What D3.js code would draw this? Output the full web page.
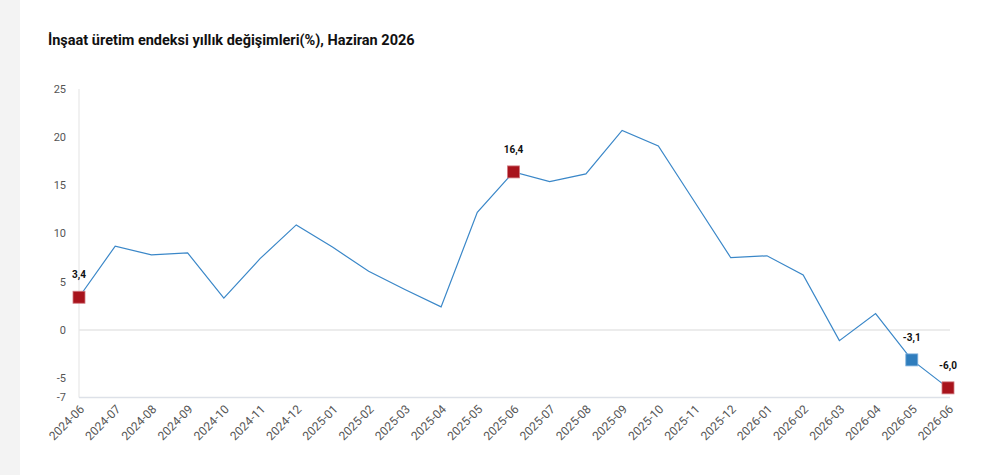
<!DOCTYPE html>
<html>
<head>
<meta charset="utf-8">
<script src="https://cdn.jsdelivr.net/npm/d3@7"></script>
<style>
  body { margin: 0; background: #fff; font-family: Roboto, "Noto Sans", sans-serif; }
  #chart { width: 985px; height: 475px; }
</style>
</head>
<body>
<div id="chart"></div>
<script>
// months on the x axis
const months = ["2024-06","2024-07","2024-08","2024-09","2024-10","2024-11","2024-12",
    "2025-01","2025-02","2025-03","2025-04","2025-05","2025-06","2025-07","2025-08",
    "2025-09","2025-10","2025-11","2025-12","2026-01","2026-02","2026-03","2026-04",
    "2026-05","2026-06"];

// yearly change (%)
const values = [3.4, 8.7, 7.8, 8.0, 3.3, 7.4, 10.9, 8.6, 6.1, 4.2, 2.4, 12.2, 16.4,
    15.4, 16.2, 20.7, 19.1, 13.3, 7.5, 7.7, 5.7, -1.1, 1.7, -3.1, -6.0];

// highlighted points (month index + marker kind)
const highlights = [
    { i: 0, kind: "red" },
    { i: 12, kind: "red" },
    { i: 23, kind: "blue" },
    { i: 24, kind: "red" }
];

const yTicks = [25, 20, 15, 10, 5, 0, -5, -7];

const width = 985, height = 475;
const svg = d3.select("#chart").append("svg")
    .attr("width", width)
    .attr("height", height);

// grey strip on the left
svg.append("rect")
    .attr("x", 0).attr("y", 0)
    .attr("width", 20).attr("height", height)
    .attr("fill", "#f3f3f3");

svg.append("text")
    .attr("x", 48)
    .attr("y", 45)
    .attr("font-size", "14.5px")
    .attr("font-weight", "bold")
    .attr("fill", "#111")
    .text("İnşaat üretim endeksi yıllık değişimleri(%), Haziran 2026");

const x = d3.scalePoint().domain(months).range([79, 948]);
const y = d3.scaleLinear().domain([-7, 25]).range([397.5, 89]);

// y axis line
svg.append("line")
    .attr("x1", 79).attr("x2", 79)
    .attr("y1", y(25)).attr("y2", y(-7))
    .attr("stroke", "#e3e3e3");

// zero line and bottom line
[0, -7].forEach(function(v) {
    svg.append("line")
        .attr("x1", 79).attr("x2", 950)
        .attr("y1", y(v)).attr("y2", y(v))
        .attr("stroke", v === 0 ? "#e6e6e6" : "#dde1e8")
        .attr("stroke-width", 1.3);
});

svg.selectAll(".ytick")
    .data(yTicks)
    .enter()
    .append("text")
        .attr("class", "ytick")
        .attr("x", 66)
        .attr("y", function(d) { return y(d); })
        .attr("dy", "0.35em")
        .attr("text-anchor", "end")
        .attr("font-size", "11px")
        .attr("fill", "#555")
        .text(function(d) { return d; });

svg.selectAll(".xtick")
    .data(months)
    .enter()
    .append("text")
        .attr("class", "xtick")
        .attr("transform", function(d) { return "translate(" + (x(d) + 3) + ",407) rotate(-45)"; })
        .attr("text-anchor", "end")
        .attr("dy", "0.35em")
        .attr("font-size", "12px")
        .attr("fill", "#555")
        .text(function(d) { return d; });

const line = d3.line()
    .x(function(d, i) { return x(months[i]); })
    .y(function(d) { return y(d); });

svg.append("path")
    .datum(values)
    .attr("d", line)
    .attr("fill", "none")
    .attr("stroke", "#3a87c8")
    .attr("stroke-width", 1.2);

const fills = { red: "#a8131c", blue: "#2f7dbd" };
const strokes = { red: "#d07a80", blue: "#7fb0dc" };

svg.selectAll(".marker")
    .data(highlights)
    .enter()
    .append("rect")
        .attr("class", "marker")
        .attr("x", function(d) { return x(months[d.i]) - 6; })
        .attr("y", function(d) { return y(values[d.i]) - 6; })
        .attr("width", 12)
        .attr("height", 12)
        .attr("fill", function(d) { return fills[d.kind]; })
        .attr("stroke", function(d) { return strokes[d.kind]; })
        .attr("stroke-width", 0.8);

svg.selectAll(".vlabel")
    .data(highlights)
    .enter()
    .append("text")
        .attr("class", "vlabel")
        .attr("x", function(d) { return x(months[d.i]); })
        .attr("y", function(d) { return y(values[d.i]) - 19; })
        .attr("text-anchor", "middle")
        .attr("font-size", "10px")
        .attr("font-weight", "bold")
        .attr("fill", "#111")
        .text(function(d) { return d3.format(".1f")(values[d.i]).replace(".", ",").replace("−", "-"); });
</script>
</body>
</html>
